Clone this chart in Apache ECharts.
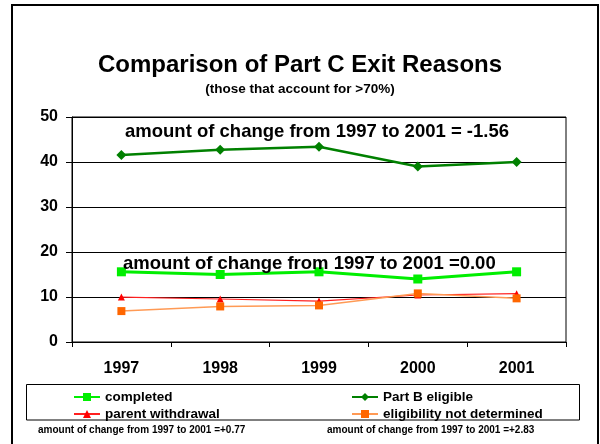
<!DOCTYPE html>
<html>
<head>
<meta charset="utf-8">
<script src="https://cdn.jsdelivr.net/npm/echarts@6/dist/echarts.min.js"></script>
<style>
html,body{margin:0;padding:0;background:#fff;}
#chart{width:600px;height:444px;}
</style>
</head>
<body>
<div id="chart"></div>
<script>
var categories = ['1997', '1998', '1999', '2000', '2001'];
var completed = [15.6, 15.0, 15.6, 14.0, 15.6];
var partBEligible = [41.56, 42.7, 43.4, 39.0, 40.0];
var parentWithdrawal = [9.98, 9.55, 9.1, 10.45, 10.75];
var eligibilityNotDetermined = [6.87, 7.9, 8.13, 10.8, 9.7];
var yTicks = [0, 10, 20, 30, 40, 50];

var titleText = 'Comparison of Part C Exit Reasons';
var subtitleText = '(those that account for >70%)';
var noteB = 'amount of change from 1997 to 2001 = -1.56';
var noteCompleted = 'amount of change from 1997 to 2001 =0.00';
var noteParent = 'amount of change from 1997 to 2001 =+0.77';
var noteElig = 'amount of change from 1997 to 2001 =+2.83';

var FONT = '"Liberation Sans", Arial, sans-serif';
var chart = echarts.init(document.getElementById('chart'));

var legendText = {fontFamily: FONT, fontSize: 13.5, fontWeight: 'bold', color: '#000'};

chart.setOption({
  backgroundColor: '#fff',
  animation: false,
  title: {
    text: titleText,
    subtext: subtitleText,
    left: 'center',
    top: 48,
    itemGap: 5,
    textStyle: {fontFamily: FONT, fontSize: 24, fontWeight: 'bold', color: '#000'},
    subtextStyle: {fontFamily: FONT, fontSize: 13.5, fontWeight: 'bold', color: '#000'}
  },
  grid: {
    left: 72, right: 34, top: 117, bottom: 102,
    show: true, borderColor: '#000', borderWidth: 1, backgroundColor: 'transparent'
  },
  legend: [
    {
      data: ['completed', 'parent withdrawal'],
      orient: 'vertical', left: 68, top: 385,
      itemWidth: 26, itemHeight: 10, itemGap: 3,
      textStyle: legendText
    },
    {
      data: ['Part B eligible', 'eligibility not determined'],
      orient: 'vertical', left: 346, top: 385,
      itemWidth: 26, itemHeight: 10, itemGap: 3,
      textStyle: legendText
    }
  ],
  xAxis: {
    type: 'category',
    data: categories,
    boundaryGap: true,
    axisLine: {lineStyle: {color: '#000', width: 1}},
    axisTick: {show: true, length: 5, alignWithLabel: false, lineStyle: {color: '#000'}},
    axisLabel: {fontFamily: FONT, fontSize: 16, fontWeight: 'bold', color: '#000', margin: 19},
    splitLine: {show: false}
  },
  yAxis: {
    type: 'value',
    min: yTicks[0], max: yTicks[yTicks.length - 1], interval: 10,
    axisLine: {show: true, lineStyle: {color: '#000', width: 1}},
    axisTick: {show: true, length: 6, lineStyle: {color: '#000'}},
    axisLabel: {fontFamily: FONT, fontSize: 16, fontWeight: 'bold', color: '#000', margin: 14},
    splitLine: {show: true, lineStyle: {color: '#000', width: 1}}
  },
  series: [
    {
      name: 'completed', type: 'line', data: completed,
      symbol: 'rect', symbolSize: 9,
      lineStyle: {color: '#00ee00', width: 3},
      itemStyle: {color: '#00ee00'}, z: 4
    },
    {
      name: 'Part B eligible', type: 'line', data: partBEligible,
      symbol: 'diamond', symbolSize: 10,
      lineStyle: {color: '#008000', width: 2.5},
      itemStyle: {color: '#008000'}, z: 4
    },
    {
      name: 'parent withdrawal', type: 'line', data: parentWithdrawal,
      symbol: 'triangle', symbolSize: 7,
      lineStyle: {color: '#ff2020', width: 1.2},
      itemStyle: {color: '#ff0000'}, z: 3
    },
    {
      name: 'eligibility not determined', type: 'line', data: eligibilityNotDetermined,
      symbol: 'rect', symbolSize: 8,
      lineStyle: {color: '#ff9a55', width: 1.5},
      itemStyle: {color: '#ff6600'}, z: 3
    }
  ],
  graphic: [
    {type: 'rect', shape: {x: 12, y: 5, width: 586, height: 460}, style: {fill: 'none', stroke: '#000', lineWidth: 2}, silent: true, z: 100},
    {type: 'rect', shape: {x: 26.5, y: 384.5, width: 553, height: 35.5}, style: {fill: 'none', stroke: '#000', lineWidth: 1}, silent: true},
    {type: 'text', left: 125, top: 122, style: {text: noteB, font: 'bold 18.5px ' + FONT, fill: '#000'}, z: 10},
    {type: 'text', left: 123, top: 254, style: {text: noteCompleted, font: 'bold 18.5px ' + FONT, fill: '#000'}, z: 10},
    {type: 'text', left: 38, top: 425, style: {text: noteParent, font: 'bold 10px ' + FONT, fill: '#000'}},
    {type: 'text', left: 327, top: 425, style: {text: noteElig, font: 'bold 10px ' + FONT, fill: '#000'}}
  ]
});
</script>
</body>
</html>
